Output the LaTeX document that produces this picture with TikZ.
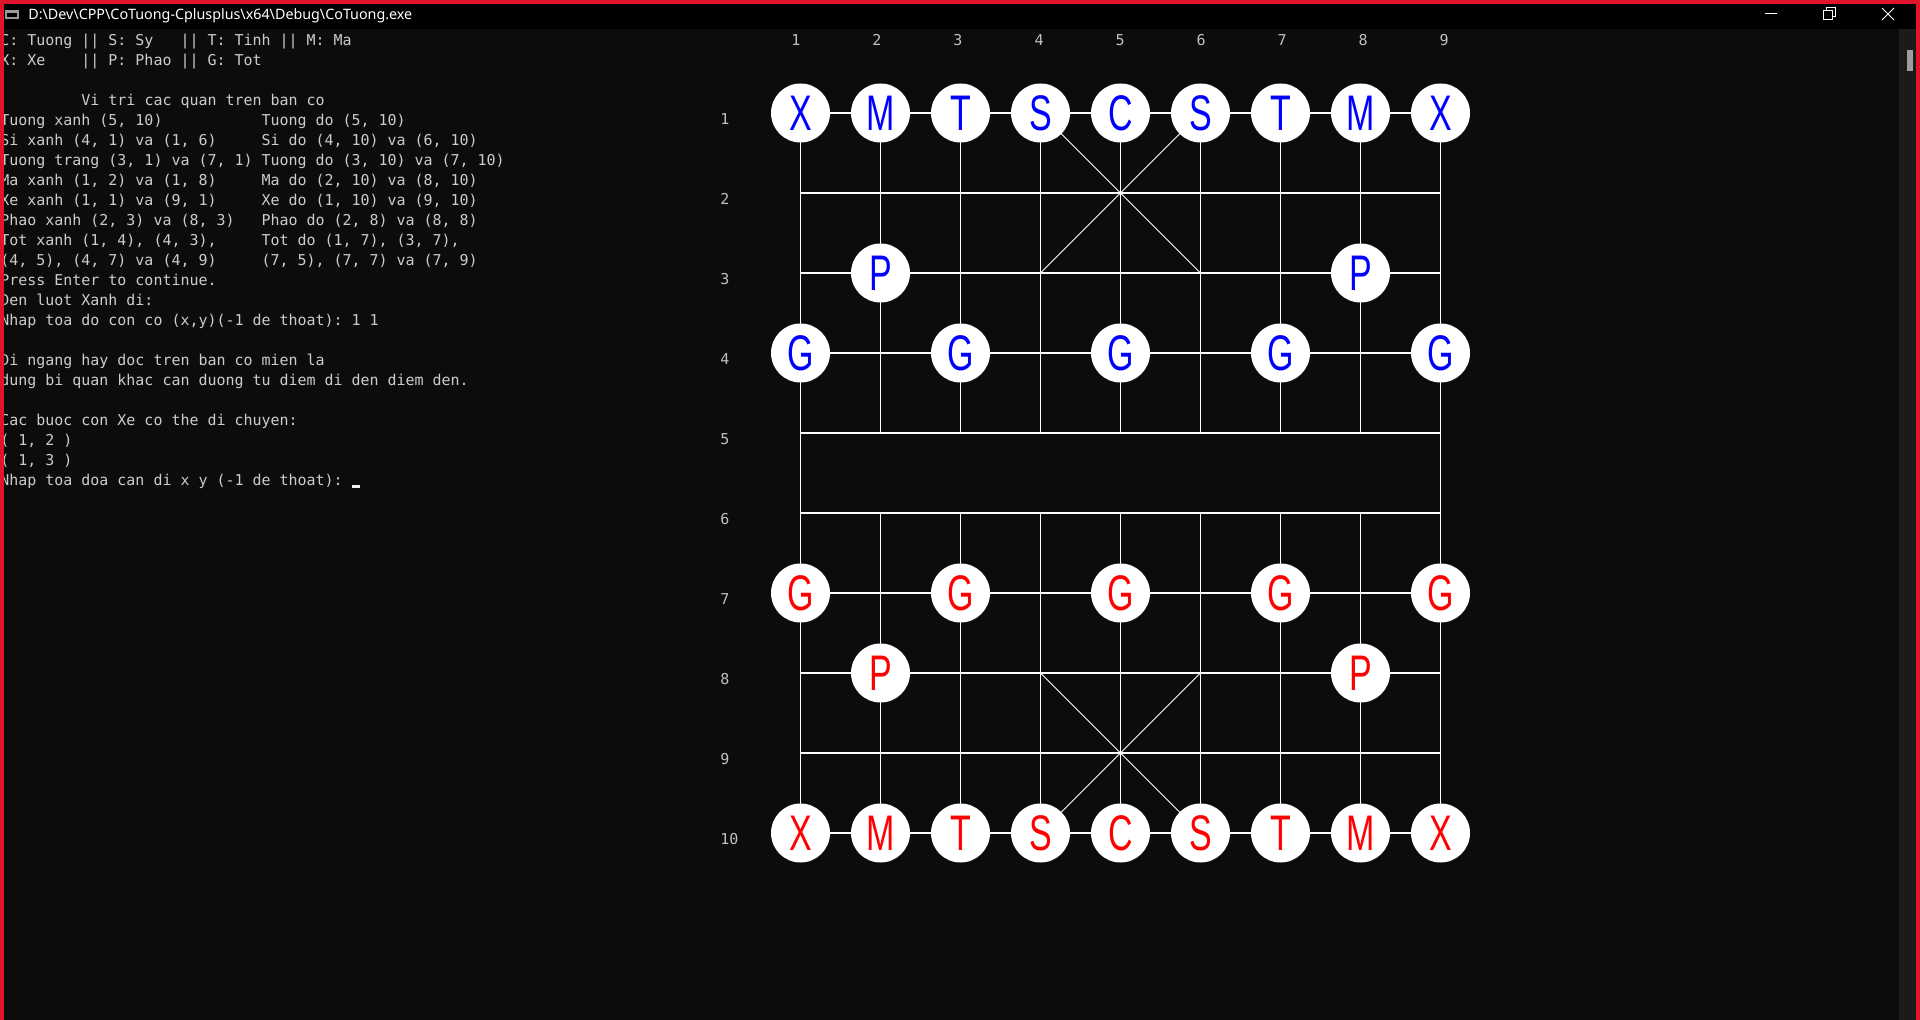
\documentclass[tikz,border=0pt]{standalone}
\usepackage{fontspec}
\newfontfamily\consolefont{DejaVu Sans Mono}
\newfontfamily\piecefont[FakeStretch=0.68]{Liberation Sans}
\newfontfamily\titlefont{Noto Sans}
\definecolor{consolebg}{HTML}{0C0C0C}
\definecolor{consoletext}{HTML}{CCCCCC}
\definecolor{winred}{HTML}{E0142A}
\definecolor{scrollbg}{HTML}{1B1B1B}
\definecolor{scrollthumb}{HTML}{9E9E9E}
\definecolor{labelgray}{HTML}{C0C0C0}
\frenchspacing
\begin{document}
\begin{tikzpicture}[x=0.5pt,y=-0.5pt]
\tikzstyle{grid}=[draw=white,line width=0.75pt]
\tikzstyle{diag}=[draw=white,line width=0.45pt]
\tikzstyle{piece}=[circle,fill=white,minimum size=29.5pt,inner sep=0pt,font=\piecefont\fontsize{25pt}{26pt}\selectfont]
\tikzstyle{conline}=[anchor=base west,inner sep=0pt,text=consoletext,font=\consolefont\fontsize{7.48pt}{10pt}\selectfont]
\tikzstyle{lbl}=[inner sep=0pt,text=labelgray,font=\consolefont\fontsize{7.5pt}{9pt}\selectfont]

\useasboundingbox (0,0) rectangle (1920,1020);
\fill[consolebg] (0,0) rectangle (1920,1020);

\fill[black] (0,0) rectangle (1920,29);
\fill[gray!80] (5,10) rectangle (19,19);
\fill[black] (7,13) rectangle (17,17);
\node[anchor=base west,inner sep=0pt,text=white,font=\titlefont\fontsize{7.15pt}{9pt}\selectfont] (title) at (28,20) {D:\textbackslash Dev\textbackslash CPP\textbackslash CoTuong-Cplusplus\textbackslash x64\textbackslash Debug\textbackslash CoTuong.exe};
\draw[white,line width=0.5pt] (1765,13.5) -- (1777,13.5);
\draw[white,line width=0.5pt] (1823,11) rectangle (1832,20);
\draw[white,line width=0.5pt] (1826,11) -- (1826,8) -- (1835,8) -- (1835,17) -- (1832,17);
\draw[white,line width=0.5pt] (1882,8) -- (1894,20) (1894,8) -- (1882,20);

\fill[scrollbg] (1899,29) rectangle (1916,1020);
\fill[scrollthumb] (1907,50) rectangle (1913,71);

\foreach \k/\txt in {
  0/{C: Tuong || S: Sy~~~|| T: Tinh || M: Ma},
  1/{X: Xe~~~~|| P: Phao || G: Tot},
  3/{~~~~~~~~~Vi tri cac quan tren ban co},
  4/{Tuong xanh (5, 10)~~~~~~~~~~~Tuong do (5, 10)},
  5/{Si xanh (4, 1) va (1, 6)~~~~~Si do (4, 10) va (6, 10)},
  6/{Tuong trang (3, 1) va (7, 1) Tuong do (3, 10) va (7, 10)},
  7/{Ma xanh (1, 2) va (1, 8)~~~~~Ma do (2, 10) va (8, 10)},
  8/{Xe xanh (1, 1) va (9, 1)~~~~~Xe do (1, 10) va (9, 10)},
  9/{Phao xanh (2, 3) va (8, 3)~~~Phao do (2, 8) va (8, 8)},
  10/{Tot xanh (1, 4), (4, 3),~~~~~Tot do (1, 7), (3, 7),},
  11/{(4, 5), (4, 7) va (4, 9)~~~~~(7, 5), (7, 7) va (7, 9)},
  12/{Press Enter to continue.},
  13/{Den luot Xanh di:},
  14/{Nhap toa do con co (x,y)(-1 de thoat): 1 1},
  16/{Di ngang hay doc tren ban co mien la},
  17/{dung bi quan khac can duong tu diem di den diem den.},
  19/{Cac buoc con Xe co the di chuyen:},
  20/{( 1, 2 )},
  21/{( 1, 3 )},
  22/{Nhap toa doa can di x y (-1 de thoat):}}
{
  \node[conline] (line-\k) at (0,{45.5+20*\k}) {\txt};
}
\fill[white!95!black] (352,485) rectangle (360,488);

\foreach \c in {1,...,9}
{
  \foreach \r in {1,...,10}
  {
    \coordinate (g-\c-\r) at ({800.5+80*(\c-1)},{113+80*(\r-1)});
  }
  \node[lbl] (col-\c) at ({796+81*(\c-1)},40) {\c};
}
\foreach \r in {1,...,10}
{
  \node[lbl,anchor=west] (row-\r) at (720,{119+80*(\r-1)}) {\r};
  \draw[grid] (g-1-\r) -- (g-9-\r);
}
\draw[grid] (g-1-1) -- (g-1-10);
\draw[grid] (g-9-1) -- (g-9-10);
\foreach \c in {2,...,8}
{
  \draw[grid] (g-\c-1) -- (g-\c-5);
  \draw[grid] (g-\c-6) -- (g-\c-10);
}
\draw[diag] (g-4-1) -- (g-6-3);
\draw[diag] (g-6-1) -- (g-4-3);
\draw[diag] (g-4-8) -- (g-6-10);
\draw[diag] (g-6-8) -- (g-4-10);

\foreach \l [count=\c] in {X,M,T,S,C,S,T,M,X}
{
  \node[piece,text=blue] (blue-\c) at (g-\c-1) {\l};
  \node[piece,text=red] (red-\c) at (g-\c-10) {\l};
}
\foreach \c in {2,8}
{
  \node[piece,text=blue] (bluep-\c) at (g-\c-3) {P};
  \node[piece,text=red] (redp-\c) at (g-\c-8) {P};
}
\foreach \c in {1,3,5,7,9}
{
  \node[piece,text=blue] (blueg-\c) at (g-\c-4) {G};
  \node[piece,text=red] (redg-\c) at (g-\c-7) {G};
}

\fill[winred] (0,0) rectangle (1920,4);
\fill[winred] (0,0) rectangle (4,1020);
\fill[winred] (1916,0) rectangle (1920,1020);
\end{tikzpicture}
\end{document}
